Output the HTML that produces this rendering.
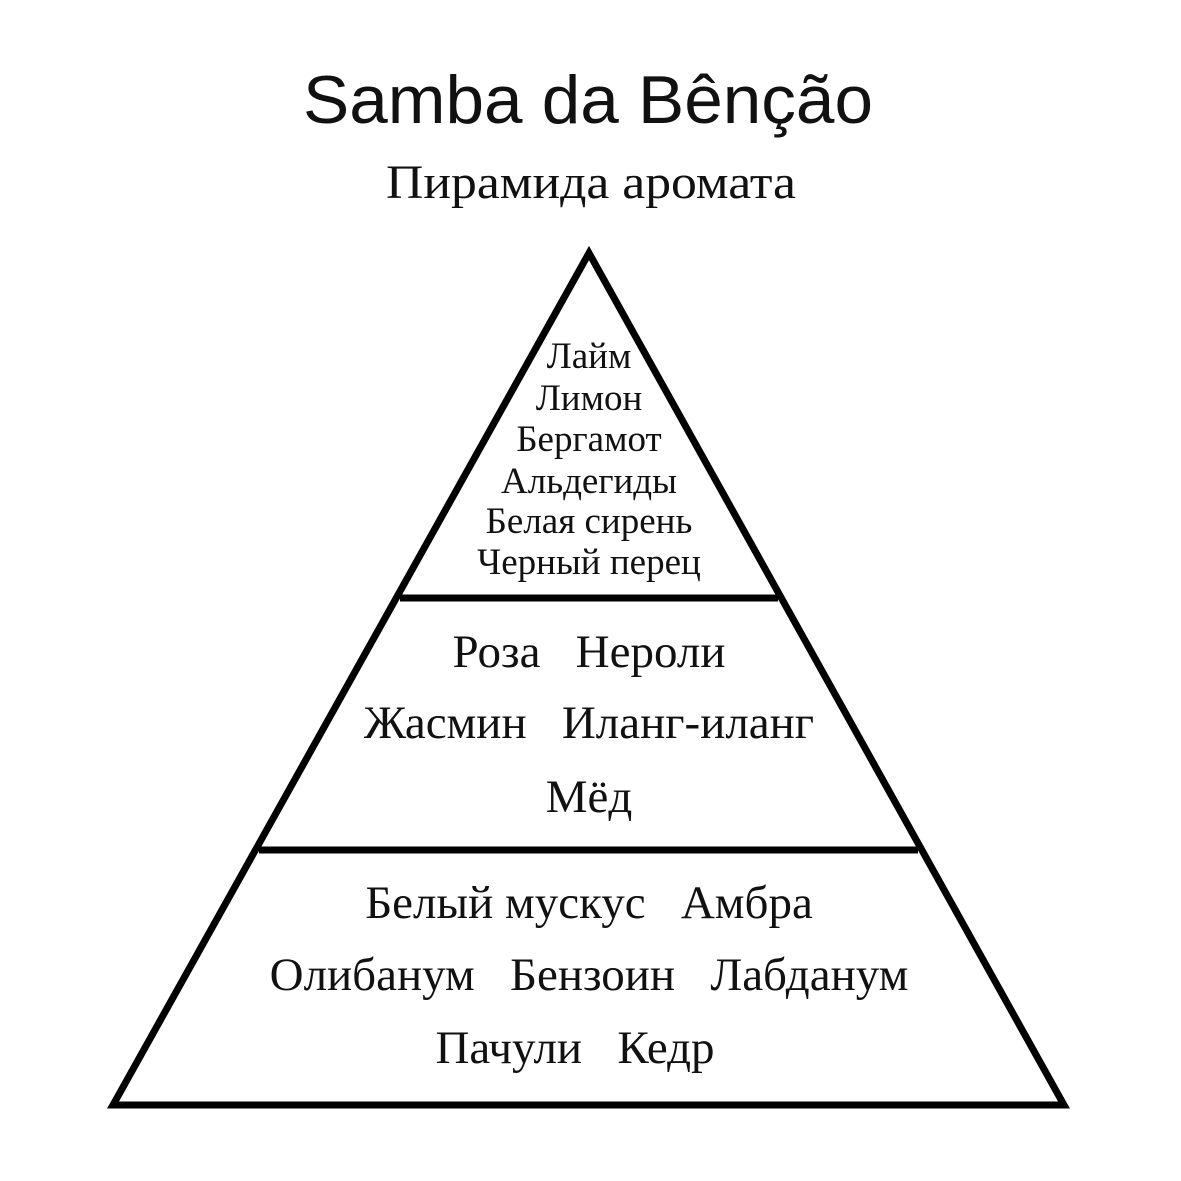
<!DOCTYPE html>
<html><head><meta charset="utf-8"><style>
html,body{margin:0;padding:0;background:#fff;}
svg{display:block}
.t{font-family:"Liberation Serif","DejaVu Serif",serif;fill:#111;text-anchor:middle}
</style></head><body>
<svg width="1181" height="1181" viewBox="0 0 1181 1181" xmlns="http://www.w3.org/2000/svg">
<rect width="1181" height="1181" fill="#fff"/>
<text x="588" y="123" textLength="570" lengthAdjust="spacingAndGlyphs" style="font-family:'Liberation Sans','DejaVu Sans',sans-serif;font-size:68px;fill:#111;text-anchor:middle">Samba da Bênção</text>
<text class="t" x="591" y="198" font-size="48" textLength="410" lengthAdjust="spacingAndGlyphs">Пирамида аромата</text>
<polygon points="589,253 113,1105 1064,1105" fill="none" stroke="#000" stroke-width="7" stroke-linejoin="miter"/>
<line x1="400" y1="598" x2="778" y2="598" stroke="#000" stroke-width="7"/>
<line x1="259" y1="850" x2="918" y2="850" stroke="#000" stroke-width="7"/>
<g class="t" font-size="37">
<text x="589" y="368">Лайм</text>
<text x="589" y="410">Лимон</text>
<text x="589" y="451">Бергамот</text>
<text x="589" y="493">Альдегиды</text>
<text x="589" y="533">Белая сирень</text>
<text x="589" y="574">Черный перец</text>
</g>
<g class="t" font-size="47">
<text x="589" y="667">Роза&#160;&#160;&#160;Нероли</text>
<text x="589" y="738">Жасмин&#160;&#160;&#160;Иланг-иланг</text>
<text x="589" y="812">Мёд</text>
<text x="589" y="918">Белый мускус&#160;&#160;&#160;Амбра</text>
<text x="589" y="990">Олибанум&#160;&#160;&#160;Бензоин&#160;&#160;&#160;Лабданум</text>
<text x="575" y="1063">Пачули&#160;&#160;&#160;Кедр</text>
</g>
</svg>
</body></html>
